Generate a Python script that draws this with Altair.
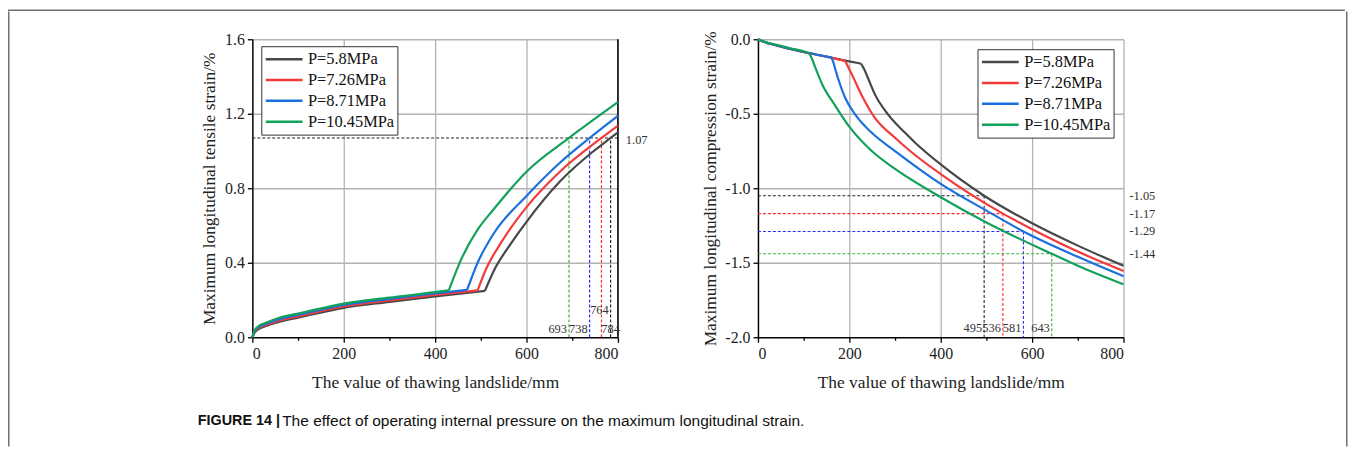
import altair as alt
import pandas as pd

SERIES = ["P=5.8MPa", "P=7.26MPa", "P=8.71MPa", "P=10.45MPa"]
LINE_COLORS = ["#474747", "#f33b3b", "#1b70dd", "#12a15b"]
DASH_COLORS = ["#222222", "#ff2a2a", "#2a2aff", "#33b133"]

# ---------- left panel: tensile strain ----------
L_pre_x = {
    "P=5.8MPa": [0, 5, 15, 30, 66, 100, 200, 300, 400, 509],
    "P=7.26MPa": [0, 5, 15, 30, 66, 100, 200, 300, 400, 493],
    "P=8.71MPa": [0, 5, 15, 30, 66, 100, 200, 300, 400, 470],
    "P=10.45MPa": [0, 5, 15, 30, 66, 100, 200, 300, 400, 430],
}
L_pre_y = {
    "P=5.8MPa": [0, 0.025, 0.045, 0.06, 0.087, 0.105, 0.158, 0.19, 0.22, 0.249],
    "P=7.26MPa": [0, 0.029, 0.05, 0.066, 0.094, 0.112, 0.165, 0.198, 0.228, 0.252],
    "P=8.71MPa": [0, 0.033, 0.056, 0.072, 0.102, 0.12, 0.173, 0.206, 0.236, 0.254],
    "P=10.45MPa": [0, 0.036, 0.062, 0.078, 0.11, 0.127, 0.181, 0.213, 0.242, 0.252],
}
L_post_x = {
    "P=5.8MPa": [509, 529, 565, 600, 673, 745, 784, 800],
    "P=7.26MPa": [493, 511, 544, 600, 673, 764, 800],
    "P=8.71MPa": [470, 493, 529, 600, 673, 738, 800],
    "P=10.45MPa": [430, 457, 493, 529, 600, 693, 800],
}
L_post_y = {
    "P=5.8MPa": [0.249, 0.36, 0.50, 0.62, 0.836, 0.996, 1.07, 1.10],
    "P=7.26MPa": [0.252, 0.364, 0.507, 0.699, 0.889, 1.07, 1.137],
    "P=8.71MPa": [0.254, 0.40, 0.56, 0.759, 0.937, 1.07, 1.189],
    "P=10.45MPa": [0.252, 0.418, 0.578, 0.69, 0.889, 1.07, 1.262],
}
L_level = 1.07
L_cross = [784, 764, 738, 693]

# ---------- right panel: compression strain ----------
R_pre_x = {
    "P=5.8MPa": [0, 10, 20, 40, 70, 104, 150, 191, 226],
    "P=7.26MPa": [0, 10, 20, 40, 70, 104, 150, 191],
    "P=8.71MPa": [0, 10, 20, 40, 70, 104, 130, 161],
    "P=10.45MPa": [0, 10, 20, 40, 70, 100, 112],
}
R_pre_y = {
    "P=5.8MPa": [0, -0.014, -0.024, -0.041, -0.065, -0.089, -0.116, -0.143, -0.164],
    "P=7.26MPa": [0, -0.014, -0.024, -0.040, -0.064, -0.088, -0.117, -0.145],
    "P=8.71MPa": [0, -0.014, -0.024, -0.040, -0.063, -0.087, -0.104, -0.123],
    "P=10.45MPa": [0, -0.013, -0.022, -0.037, -0.060, -0.080, -0.092],
}
R_post_x = {
    "P=5.8MPa": [226, 233, 241, 256, 285, 322, 344, 400, 495, 600, 700, 800],
    "P=7.26MPa": [191, 198, 206, 227, 256, 300, 333, 400, 536, 600, 700, 800],
    "P=8.71MPa": [161, 165, 170, 191, 213, 249, 300, 400, 500, 581, 700, 800],
    "P=10.45MPa": [112, 118, 126, 141, 170, 199, 249, 300, 400, 500, 643, 700, 800],
}
R_post_y = {
    "P=5.8MPa": [-0.164, -0.205, -0.262, -0.37, -0.506, -0.628, -0.694, -0.84, -1.05, -1.235, -1.385, -1.52],
    "P=7.26MPa": [-0.145, -0.19, -0.239, -0.375, -0.528, -0.661, -0.75, -0.905, -1.17, -1.275, -1.425, -1.555],
    "P=8.71MPa": [-0.123, -0.155, -0.21, -0.394, -0.506, -0.628, -0.75, -0.97, -1.15, -1.29, -1.46, -1.59],
    "P=10.45MPa": [-0.092, -0.13, -0.194, -0.305, -0.45, -0.583, -0.75, -0.87, -1.06, -1.23, -1.44, -1.52, -1.645],
}
R_levels = [-1.05, -1.17, -1.29, -1.44]
R_cross = [495, 536, 581, 643]
R_level_labels = ["-1.05", "-1.17", "-1.29", "-1.44"]

X_TITLE = "The value of thawing landslide/mm"
L_Y_TITLE = "Maximum longitudinal tensile strain/%"
R_Y_TITLE = "Maximum longitudinal compression strain/%"
CAPTION_BOLD = "FIGURE 14 |"
CAPTION_TEXT = "The effect of operating internal pressure on the maximum longitudinal strain."

SERIF = "Liberation Serif"
PW, PH = 368, 300


def build_df(pre_x, pre_y, post_x, post_y):
    rows = []
    for s in SERIES:
        for xv, yv in zip(pre_x[s], pre_y[s]):
            rows.append({"x": xv, "y": yv, "s": s, "seg": s + "a"})
        for xv, yv in zip(post_x[s], post_y[s]):
            rows.append({"x": xv, "y": yv, "s": s, "seg": s + "b"})
    return pd.DataFrame(rows)


def x_axis():
    return alt.Axis(
        title=X_TITLE,
        values=list(range(0, 801, 100)),
        labelExpr="datum.value % 200 === 0 ? datum.label : ''",
        tickSize={"condition": {"test": "datum.value % 200 === 0", "value": 5}, "value": 3},
        gridOpacity={"condition": {"test": "datum.value % 200 === 0 && datum.value !== 0", "value": 1}, "value": 0},
        labelPadding=3,
        titlePadding=13,
    )


def legend(lx, ly):
    return alt.Legend(
        title=None,
        orient="none",
        legendX=lx,
        legendY=ly,
        symbolType="stroke",
        symbolSize=1369,
        symbolStrokeWidth=2.5,
        clipHeight=20,
        labelFont=SERIF,
        labelFontSize=16.5,
        labelColor="#111111",
        labelOffset=4,
        strokeColor="#333333",
        padding=3,
        rowPadding=1,
        fillColor="white",
    )


xs = alt.Scale(domain=[0, 800], nice=False)

# ---- left
ldf = build_df(L_pre_x, L_pre_y, L_post_x, L_post_y)
lys = alt.Scale(domain=[0, 1.6], nice=False)
l_lines = alt.Chart(ldf).mark_line(strokeWidth=2.2, interpolate="monotone").encode(
    x=alt.X("x:Q", scale=xs, axis=x_axis()),
    y=alt.Y(
        "y:Q",
        scale=lys,
        axis=alt.Axis(
            title=L_Y_TITLE,
            values=[0, 0.2, 0.4, 0.6, 0.8, 1.0, 1.2, 1.4, 1.6],
            labelExpr="round(datum.value*10) % 4 === 0 ? format(datum.value, '.1f') : ''",
            tickSize={"condition": {"test": "round(datum.value*10) % 4 === 0", "value": 5}, "value": 3},
            gridOpacity={"condition": {"test": "round(datum.value*10) % 4 === 0 && datum.value !== 0", "value": 1}, "value": 0},
            labelPadding=3,
            titlePadding=6,
        ),
    ),
    color=alt.Color("s:N", scale=alt.Scale(domain=SERIES, range=LINE_COLORS), legend=legend(9, 7)),
    detail="seg:N",
)
l_layers = []
l_layers.append(
    alt.Chart(pd.DataFrame({"x": [0], "x2": [800], "y": [L_level]}))
    .mark_rule(color=DASH_COLORS[0], strokeDash=[3, 2], strokeWidth=1.1)
    .encode(x=alt.X("x:Q", scale=xs), x2="x2:Q", y=alt.Y("y:Q", scale=lys))
)
for i, cx in enumerate(L_cross):
    l_layers.append(
        alt.Chart(pd.DataFrame({"x": [cx], "y": [0], "y2": [L_level]}))
        .mark_rule(color=DASH_COLORS[i], strokeDash=[3, 2], strokeWidth=1.2)
        .encode(x=alt.X("x:Q", scale=xs), y=alt.Y("y:Q", scale=lys), y2="y2:Q")
    )
# right border of left panel (black)
l_layers.append(
    alt.Chart(pd.DataFrame({"x": [800], "y": [0], "y2": [1.6]}))
    .mark_rule(color="black", strokeWidth=1.5)
    .encode(x=alt.X("x:Q", scale=xs), y=alt.Y("y:Q", scale=lys), y2="y2:Q")
)
txt = dict(font=SERIF, fontSize=12.5, color="#333333")
l_layers.append(
    alt.Chart(pd.DataFrame({"x": [L_cross[3], L_cross[2]], "y": [0, 0], "t": [str(L_cross[3]), str(L_cross[2])]}))
    .mark_text(align="right", baseline="alphabetic", dx=-2, dy=-4, **txt)
    .encode(x=alt.X("x:Q", scale=xs), y=alt.Y("y:Q", scale=lys), text="t:N")
)
l_layers.append(
    alt.Chart(pd.DataFrame({"x": [L_cross[0]], "y": [0], "t": [str(L_cross[0])]}))
    .mark_text(align="center", baseline="alphabetic", dy=-4, **txt)
    .encode(x=alt.X("x:Q", scale=xs), y=alt.Y("y:Q", scale=lys), text="t:N")
)
l_layers.append(
    alt.Chart(pd.DataFrame({"x": [L_cross[1]], "y": [0], "t": [str(L_cross[1])]}))
    .mark_text(align="center", baseline="alphabetic", dx=-2, dy=-23, **txt)
    .encode(x=alt.X("x:Q", scale=xs), y=alt.Y("y:Q", scale=lys), text="t:N")
)
l_layers.append(
    alt.Chart(pd.DataFrame({"x": [800], "y": [L_level], "t": [f"{L_level:.2f}"]}))
    .mark_text(align="left", baseline="middle", dx=8, dy=2, **txt)
    .encode(x=alt.X("x:Q", scale=xs), y=alt.Y("y:Q", scale=lys), text="t:N")
)
left = alt.layer(*l_layers, l_lines).properties(width=PW, height=PH)

# ---- right
rdf = build_df(R_pre_x, R_pre_y, R_post_x, R_post_y)
rys = alt.Scale(domain=[-2, 0], nice=False)
r_lines = alt.Chart(rdf).mark_line(strokeWidth=2.2, interpolate="monotone").encode(
    x=alt.X("x:Q", scale=xs, axis=x_axis()),
    y=alt.Y(
        "y:Q",
        scale=rys,
        axis=alt.Axis(
            title=R_Y_TITLE,
            values=[0, -0.25, -0.5, -0.75, -1.0, -1.25, -1.5, -1.75, -2.0],
            labelExpr="round(datum.value*100) % 50 === 0 ? (datum.value < 0 ? '-' : '') + format(abs(datum.value), '.1f') : ''",
            tickSize={"condition": {"test": "round(datum.value*100) % 50 === 0", "value": 5}, "value": 3},
            gridOpacity={"condition": {"test": "round(datum.value*100) % 50 === 0 && datum.value > -1.99", "value": 1}, "value": 0},
            labelPadding=3,
            titlePadding=5,
        ),
    ),
    color=alt.Color("s:N", scale=alt.Scale(domain=SERIES, range=LINE_COLORS), legend=legend(221, 10)),
    detail="seg:N",
)
r_layers = []
for i, (lv, cx) in enumerate(zip(R_levels, R_cross)):
    r_layers.append(
        alt.Chart(pd.DataFrame({"x": [0], "x2": [cx], "y": [lv]}))
        .mark_rule(color=DASH_COLORS[i], strokeDash=[3, 2], strokeWidth=1.1)
        .encode(x=alt.X("x:Q", scale=xs), x2="x2:Q", y=alt.Y("y:Q", scale=rys))
    )
    r_layers.append(
        alt.Chart(pd.DataFrame({"x": [cx], "y": [lv], "y2": [-2.0]}))
        .mark_rule(color=DASH_COLORS[i], strokeDash=[3, 2], strokeWidth=1.1)
        .encode(x=alt.X("x:Q", scale=xs), y=alt.Y("y:Q", scale=rys), y2="y2:Q")
    )
r_layers.append(
    alt.Chart(pd.DataFrame({"x": R_cross, "y": [-2.0] * 4, "t": [str(v) for v in R_cross]}))
    .mark_text(align="right", baseline="alphabetic", dx=-2, dy=-5, **txt)
    .encode(x=alt.X("x:Q", scale=xs), y=alt.Y("y:Q", scale=rys), text="t:N")
)
r_layers.append(
    alt.Chart(pd.DataFrame({"x": [800] * 4, "y": R_levels, "t": R_level_labels}))
    .mark_text(align="left", baseline="middle", dx=6, **txt)
    .encode(x=alt.X("x:Q", scale=xs), y=alt.Y("y:Q", scale=rys), text="t:N")
)
right = alt.layer(*r_layers, r_lines).properties(width=PW, height=PH)

row = alt.hconcat(left, right, spacing=141, bounds="flush").resolve_scale(
    color="independent", x="independent", y="independent"
).resolve_legend(color="independent")

# ---- caption
CAP_X = -55
cap = alt.layer(
    alt.Chart(alt.Data(values=[{"t": CAPTION_BOLD}]))
    .mark_text(align="left", baseline="middle", font="Liberation Sans", fontSize=14.5, fontWeight="bold", color="#111111")
    .encode(x=alt.value(CAP_X), y=alt.value(10), text="t:N"),
    alt.Chart(alt.Data(values=[{"t": CAPTION_TEXT}]))
    .mark_text(align="left", baseline="middle", font="Liberation Sans", fontSize=15.6, color="#111111")
    .encode(x=alt.value(CAP_X + 85), y=alt.value(10), text="t:N"),
).properties(width=700, height=20)


def box(w, h, color, op=1):
    return (
        alt.Chart(alt.Data(values=[{}]))
        .mark_rect(color=color, opacity=op)
        .encode(x=alt.value(0), x2=alt.value(w), y=alt.value(0), y2=alt.value(h))
        .properties(width=w, height=h)
    )


FRAME = "#707070"
content = alt.vconcat(box(1, 18.5, "white", 0), row, box(1, 18.5, "white", 0), cap, spacing=0)
body = alt.hconcat(
    box(1.5, 438, FRAME), box(188.5, 10, "white", 0), content, box(191, 10, "white", 0), box(1.5, 438, FRAME), spacing=0
)
chart = alt.vconcat(box(1346, 1.5, FRAME), body, spacing=0).properties(padding=0).configure_view(
    strokeWidth=0
).configure_axis(
    domainColor="black",
    domainWidth=1.5,
    tickColor="black",
    tickWidth=1.3,
    gridColor="#b3b3b3",
    gridWidth=1.3,
    labelFont=SERIF,
    labelFontSize=16,
    labelColor="#222222",
    titleFont=SERIF,
    titleFontSize=17.5,
    titleFontWeight="normal",
    titleColor="#222222",
)

chart.save("out.html", embed_options={"renderer": "svg", "actions": False})
